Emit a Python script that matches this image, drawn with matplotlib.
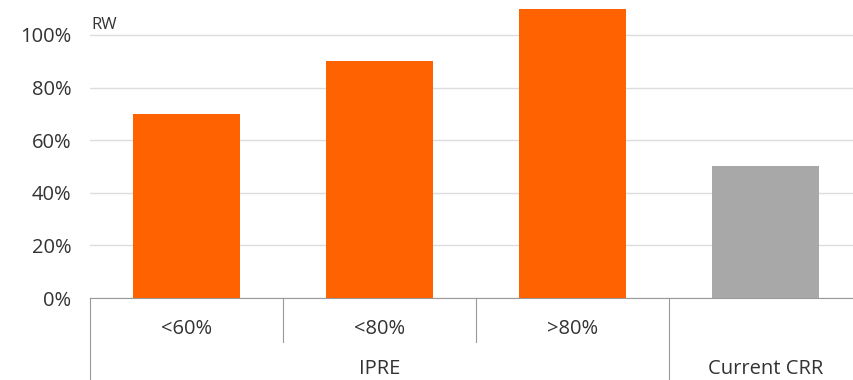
import numpy as np
import matplotlib.pyplot as plt
import matplotlib.transforms as mtransforms
from matplotlib.ticker import FuncFormatter

categories = ['<60%', '<80%', '>80%', '']
groups = ['IPRE', 'Current CRR']
group_sizes = [3, 1]
values = [0.70, 0.90, 1.10, 0.50]
colors = ['#FF6200', '#FF6200', '#FF6200', '#A8A8A8']
yticks = [0, 0.2, 0.4, 0.6, 0.8, 1.0]

plt.rcParams['font.family'] = ['Open Sans', 'DejaVu Sans']
txt = '#333333'
fs = 14.5

fig = plt.figure(figsize=(8.54, 3.8), dpi=100)
ax = fig.add_axes([90/854, 82/380, 772/854, 298/380])

x = np.arange(len(values))
ax.bar(x, values, width=0.555, color=colors, zorder=3)
ax.set_xlim(-0.5, len(values) - 0.5)
ax.set_ylim(0, 298/263)
ax.set_yticks(yticks)
ax.yaxis.set_major_formatter(FuncFormatter(lambda v, p: f'{v*100:.0f}%'))
ax.tick_params(axis='y', length=0, labelsize=fs, labelcolor=txt, pad=13.5)
ax.set_xticks([])
ax.grid(axis='y', color='#DDDDDD', linewidth=1, zorder=0)
for s in ['top', 'right', 'left']:
    ax.spines[s].set_visible(False)
ax.spines['bottom'].set_color('#999999')

ax.text(0.002, 0.903, 'RW', transform=ax.transAxes, fontsize=12, color=txt, va='baseline')

trans = mtransforms.blended_transform_factory(ax.transData, ax.transAxes)
for i, c in enumerate(categories):
    ax.text(i, -0.121, c, transform=trans, ha='center', va='baseline', fontsize=fs, color=txt)

# separators between categories and groups
start = 0
bounds = [-0.5]
for g, n in zip(groups, group_sizes):
    ax.text(start + (n - 1) / 2, -0.255, g, transform=trans, ha='center', va='baseline',
            fontsize=fs, color=txt)
    for k in range(1, n):
        ax.plot([start + k - 0.5] * 2, [0, -0.146], transform=trans, color='#999999',
                linewidth=0.8, clip_on=False)
    start += n
    bounds.append(start - 0.5)
for b in bounds:
    ax.plot([b, b], [0, -0.3], transform=trans, color='#999999', linewidth=0.8, clip_on=False)

fig.savefig('out.png', dpi=100)
